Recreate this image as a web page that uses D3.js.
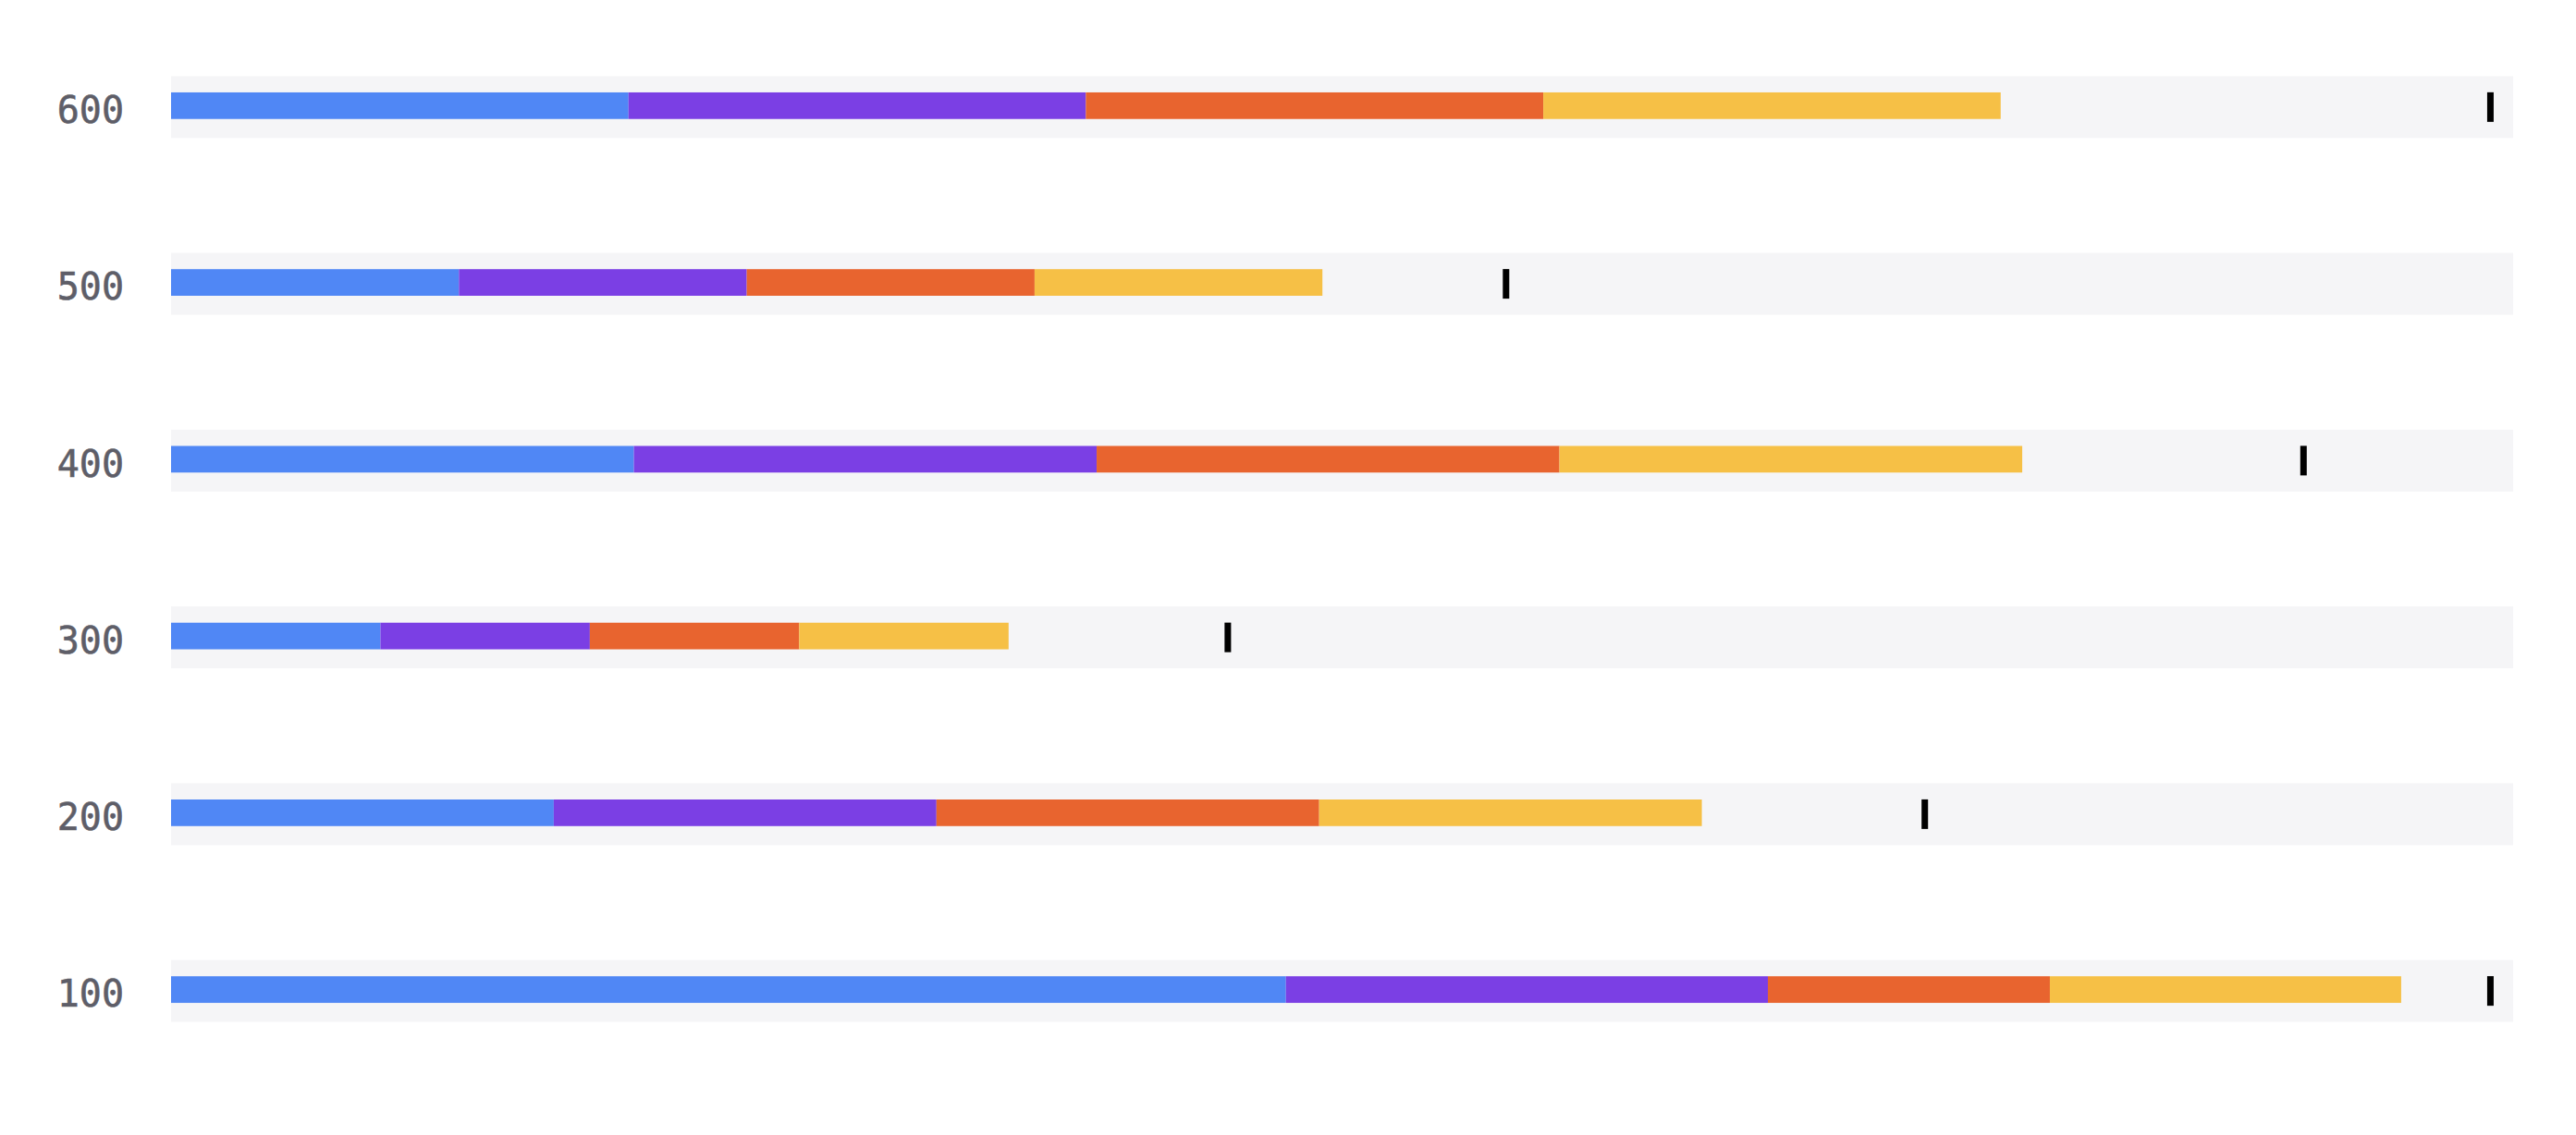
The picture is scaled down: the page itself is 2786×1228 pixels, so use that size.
<!DOCTYPE html>
<html>
<head>
<meta charset="utf-8">
<script src="https://cdn.jsdelivr.net/npm/d3@7"></script>
<style>
  body { margin: 0; background: #fff; }
</style>
</head>
<body>
<div id="vis-holder"></div>
<script>
// Set dimensions
const width = 2786;
const height = 1228;
const margin = { top: 25, right: 68, bottom: 65, left: 185 };

// row labels (top to bottom)
const categories = ["600", "500", "400", "300", "200", "100"];
const seriesNames = ["a", "b", "c", "d"];

// segment values per row, same order as categories
const segA = [19.53, 12.29, 19.76, 8.94, 16.34, 47.60];
const segB = [19.53, 12.29, 19.76, 8.94, 16.34, 20.58];
const segC = [19.53, 12.29, 19.76, 8.94, 16.34, 12.04];
const segD = [19.53, 12.29, 19.76, 8.94, 16.34, 15.00];

// target markers
const targets = [99.03, 57.0, 91.05, 45.12, 74.88, 99.03];

const color = d3.scaleOrdinal()
                .domain(seriesNames)
                .range(["#5087f5", "#7b3fe4", "#e8642f", "#f6c046"]);

const rows = categories.map((c, i) => ({
  cat: c, a: segA[i], b: segB[i], c: segC[i], d: segD[i], target: targets[i]
}));

const svg = d3.select("#vis-holder")
              .append("svg")
              .attr("width", width)
              .attr("height", height)
              .attr("viewBox", [0, 0, width, height]);

// scales
const x = d3.scaleLinear()
            .domain([0, 100])
            .range([margin.left, width - margin.right]);

const y = d3.scaleBand()
            .domain(categories)
            .range([margin.top, height - margin.bottom])
            .paddingInner(0.65)
            .paddingOuter(0.3);

const stack = d3.stack().keys(seriesNames)(rows);

// background tracks
svg.append("g")
   .selectAll("rect")
   .data(rows)
   .join("rect")
     .attr("x", x(0))
     .attr("y", d => y(d.cat))
     .attr("width", x(100) - x(0))
     .attr("height", y.bandwidth())
     .attr("fill", "#f5f5f7");

// stacked bars
const barH = y.bandwidth() * 0.43;
svg.append("g")
   .selectAll("g")
   .data(stack)
   .join("g")
     .attr("fill", s => color(s.key))
   .selectAll("rect")
   .data(s => s)
   .join("rect")
     .attr("x", d => x(d[0]))
     .attr("y", d => y(d.data.cat) + y.bandwidth() / 2 - barH / 2 - 1.5)
     .attr("width", d => x(d[1]) - x(d[0]))
     .attr("height", barH);

// target markers
const mH = 32, mW = 7;
svg.append("g")
   .selectAll("rect")
   .data(rows)
   .join("rect")
     .attr("x", d => x(d.target) - mW / 2)
     .attr("y", d => y(d.cat) + y.bandwidth() / 2 - mH / 2)
     .attr("width", mW)
     .attr("height", mH)
     .attr("fill", "#000");

// y axis labels
svg.append("g")
   .attr("transform", `translate(${margin.left - 51}, 0)`)
   .call(d3.axisLeft(y).tickSize(0).tickPadding(0))
   .call(g => g.select(".domain").remove())
   .call(g => g.selectAll("text")
               .attr("font-family", "'DejaVu Sans Mono', monospace")
               .attr("font-size", "40px")
               .attr("fill", "#5e5e68")
               .attr("stroke", "#5e5e68")
               .attr("stroke-width", 0.6)
               .attr("dy", "0.43em"));
</script>
</body>
</html>
